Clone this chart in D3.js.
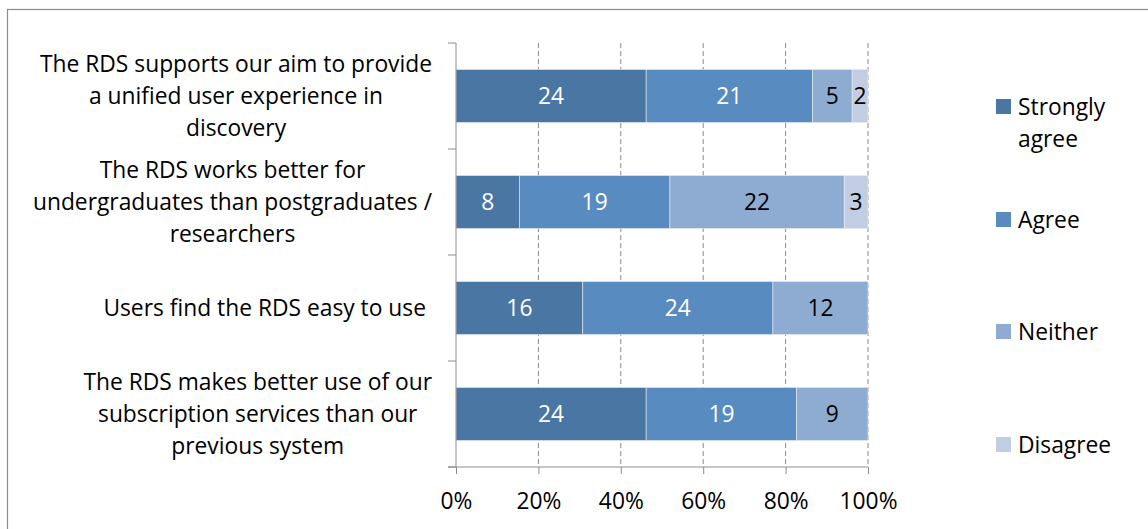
<!DOCTYPE html>
<html>
<head>
<meta charset="utf-8">
<script src="https://cdn.jsdelivr.net/npm/d3@7"></script>
<style>
  body { margin: 0; background: #fff; }
  svg text { font-family: "Open Sans", Lato, sans-serif; }
</style>
</head>
<body>
<div id="chart"></div>
<script>
// data (counts per answer)
var questions = [
  "The RDS supports our aim to provide\na unified user experience in\ndiscovery",
  "The RDS works better for\nundergraduates than postgraduates /\nresearchers",
  "Users find the RDS easy to use",
  "The RDS makes better use of our\nsubscription services than our\nprevious system"
]
var answers = ["Strongly agree", "Agree", "Neither", "Disagree"]
var stronglyAgree = [24, 8, 16, 24]
var agree = [21, 19, 24, 19]
var neither = [5, 22, 12, 9]
var disagree = [2, 3, 0, 0]
var xTicks = [0, 0.2, 0.4, 0.6, 0.8, 1]
var colors = ["#4a76a3", "#588bbf", "#8eacd1", "#c1cde3"]
var labelColors = ["#fff", "#fff", "#000", "#000"]

var W = 1148, H = 529
var margin = {top: 43, left: 456}
var width = 868 - margin.left, height = 467 - margin.top
var fs = 22.8

var svg = d3.select("#chart").append("svg")
  .attr("width", W).attr("height", H)

// outer chart border
svg.append("rect")
  .attr("x", 7.5).attr("y", 9.5).attr("width", W).attr("height", H)
  .attr("fill", "none").attr("stroke", "#8c8c8c").attr("stroke-width", 1.2)

var g = svg.append("g").attr("transform", "translate(" + margin.left + "," + margin.top + ")")

// build table and stack it as 100%
var table = questions.map(function(q, i) {
  var row = {q: q}
  row[answers[0]] = stronglyAgree[i]
  row[answers[1]] = agree[i]
  row[answers[2]] = neither[i]
  row[answers[3]] = disagree[i]
  return row
})
var series = d3.stack().keys(answers).offset(d3.stackOffsetExpand)(table)

var x = d3.scaleLinear().domain([0, 1]).range([0, width])
var y = d3.scaleBand().domain(questions).range([0, height]).paddingInner(0.5).paddingOuter(0.25)

// dashed gridlines
g.selectAll(".grid").data(xTicks.slice(1)).enter().append("line")
  .attr("x1", function(d) { return x(d) }).attr("x2", function(d) { return x(d) })
  .attr("y1", 0).attr("y2", height)
  .attr("stroke", "#8a8a8a").attr("stroke-dasharray", "5,3")

// bars
var layer = g.selectAll(".layer").data(series).enter().append("g")
  .attr("fill", function(d, i) { return colors[i] })
layer.selectAll("rect").data(function(d) { return d }).enter().append("rect")
  .attr("x", function(d) { return x(d[0]) })
  .attr("y", function(d) { return y(d.data.q) })
  .attr("width", function(d) { return x(d[1]) - x(d[0]) })
  .attr("height", y.bandwidth())
  .attr("stroke", "#e6edf6").attr("stroke-width", 0.6)

// value labels
series.forEach(function(s, si) {
  g.selectAll(".lab" + si).data(s.filter(function(d) { return d.data[s.key] > 0 })).enter().append("text")
    .attr("x", function(d) { return (x(d[0]) + x(d[1])) / 2 })
    .attr("y", function(d) { return y(d.data.q) + y.bandwidth() / 2 })
    .attr("dy", "0.36em")
    .attr("text-anchor", "middle")
    .attr("font-size", fs)
    .attr("fill", labelColors[si])
    .text(function(d) { return d.data[s.key] })
})

// left axis
var yTickPos = d3.range(questions.length + 1).map(function(i) { return i * height / questions.length })
g.append("line").attr("x1", 0).attr("x2", 0).attr("y1", 0).attr("y2", height).attr("stroke", "#8c8c8c")
g.selectAll(".ytick").data(yTickPos).enter().append("line")
  .attr("x1", -8).attr("x2", 0)
  .attr("y1", function(d) { return d }).attr("y2", function(d) { return d })
  .attr("stroke", "#8c8c8c")

// bottom axis
var xAxis = g.append("g").attr("transform", "translate(0," + height + ")")
  .call(d3.axisBottom(x).tickValues(xTicks).tickFormat(d3.format(".0%")).tickSize(7).tickPadding(19))
xAxis.select(".domain").attr("d", "M-8,0H" + width).attr("stroke", "#8c8c8c")
xAxis.selectAll(".tick line").attr("stroke", "#8c8c8c")
xAxis.selectAll("text").attr("font-size", fs).attr("fill", "#000").attr("font-family", "'Open Sans', sans-serif")

// category labels: wrapped block right-aligned, lines centered inside it
questions.forEach(function(q) {
  var lines = q.split("\n")
  var t = g.append("text").attr("font-size", fs).attr("text-anchor", "middle")
  var cy = y(q) + y.bandwidth() / 2
  var lh = 32
  var spans = lines.map(function(l, i) {
    return t.append("tspan").attr("y", cy + (i - (lines.length - 1) / 2) * lh).attr("dy", "0.36em").text(l)
  })
  var maxW = d3.max(spans, function(s) { return s.node().getComputedTextLength() })
  var right = lines.length > 1 ? -24 : -30
  spans.forEach(function(s) { s.attr("x", right - maxW / 2) })
})

// legend
var legY = [107, 220, 332, 445]
var legLabels = [["Strongly", "agree"], ["Agree"], ["Neither"], ["Disagree"]]
var leg = svg.append("g")
answers.forEach(function(a, i) {
  leg.append("rect").attr("x", 996).attr("y", legY[i] - 8).attr("width", 15).attr("height", 15).attr("fill", colors[i])
  var t = leg.append("text").attr("font-size", fs)
  legLabels[i].forEach(function(l, j) {
    t.append("tspan").attr("x", 1018).attr("y", legY[i] + j * 32).attr("dy", "0.36em").text(l)
  })
})
</script>
</body>
</html>
